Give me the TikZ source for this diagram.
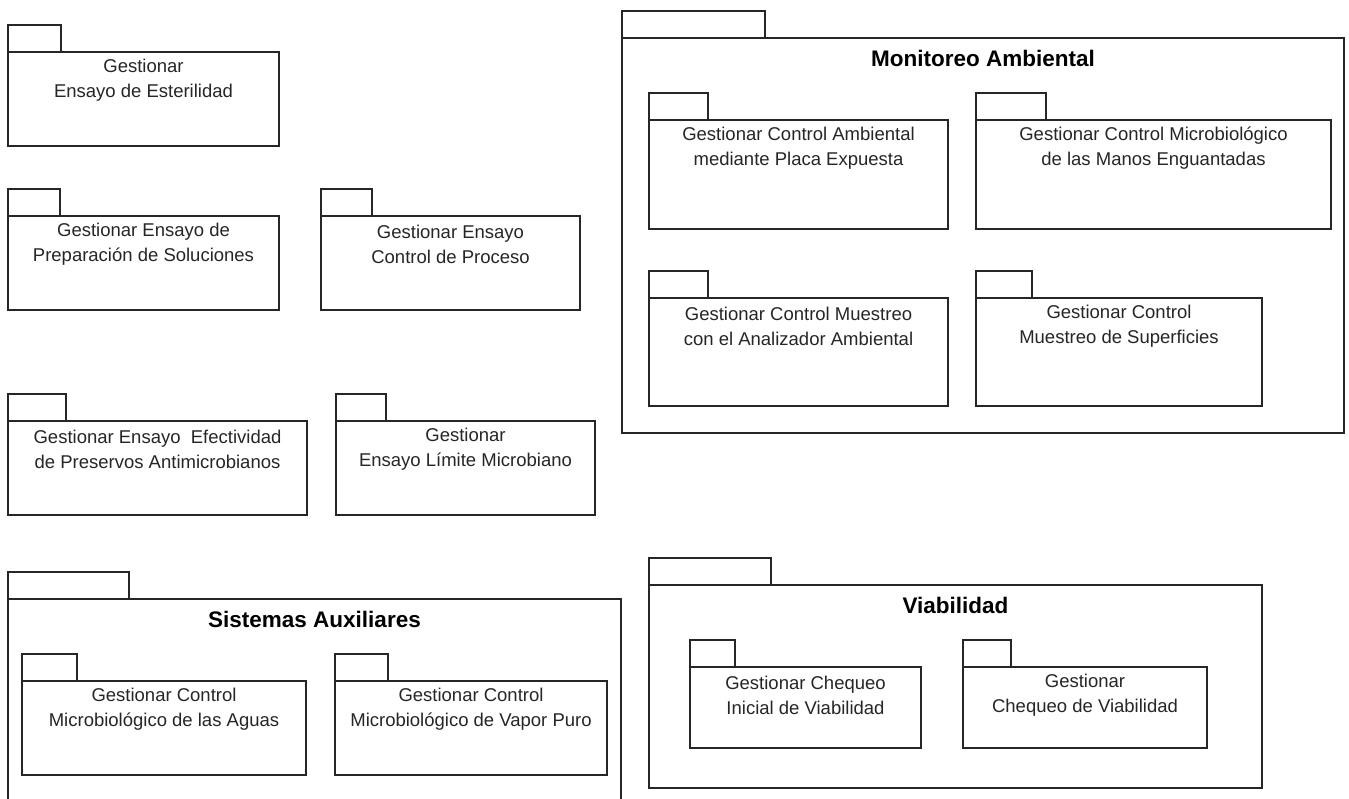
\documentclass[tikz,border=0pt]{standalone}
\usepackage{fontspec}
\setmainfont{Liberation Sans}
\begin{document}
\begin{tikzpicture}[x=1pt,y=-1pt,
  pkgline/.style={draw=black!85,line width=1.3pt,fill=white,inner sep=0pt,outer sep=0pt,anchor=north west},
  tabbox/.style={pkgline},
  bodybox/.style={pkgline},
  pkglabel/.style={align=center,inner sep=0pt,text=black!85,font=\fontsize{18.5}{25}\selectfont},
  pkgtitle/.style={inner sep=0pt,text=black,font=\fontsize{22.5}{27}\selectfont\bfseries}]
% UML package: name, left x, tab top, body top, tab right x, right x, bottom y, caption
\newcommand\umlpkg[8]{%
  \node[tabbox,minimum width={#5pt-#2pt},minimum height={#4pt-#3pt}] (#1-tab) at (#2,#3) {};
  \node[bodybox,minimum width={#6pt-#2pt},minimum height={#7pt-#4pt}] (#1) at (#2,#4) {};
  \node[pkglabel] (#1-text) at ([yshift=-28.5pt]#1.north) {#8};}
% Containing package with a bold title
\newcommand\umlgroup[8]{%
  \node[tabbox,minimum width={#5pt-#2pt},minimum height={#4pt-#3pt}] (#1-tab) at (#2,#3) {};
  \node[bodybox,minimum width={#6pt-#2pt},minimum height={#7pt-#4pt}] (#1) at (#2,#4) {};
  \node[pkgtitle] (#1-title) at ([yshift=-20.5pt]#1.north) {#8};}
\fill[white] (0,0) rectangle (1349,798);
\useasboundingbox (0,0) rectangle (1349,798);
\clip (0,0) rectangle (1349,798);

% stand-alone packages, left column
\umlpkg{esterilidad}{8}{25}{52}{61}{279}{146}{Gestionar\\Ensayo de Esterilidad}
\umlpkg{soluciones}{8}{189}{216}{60}{279}{310}{Gestionar Ensayo de\\Preparación de Soluciones}
\umlpkg{proceso}{321}{189}{216}{372}{580}{310}{Gestionar Ensayo\\Control de Proceso}
\umlpkg{efectividad}{8}{394}{421}{66}{307}{515}{Gestionar Ensayo\ \ Efectividad\\de Preservos Antimicrobianos}
\umlpkg{limite}{336}{394}{421}{386}{595}{515}{Gestionar\\Ensayo Límite Microbiano}

% Sistemas Auxiliares
\umlgroup{sistemas}{8}{572}{599}{129}{621}{812}{Sistemas Auxiliares}
\umlpkg{aguas}{22}{654}{681}{77}{306}{775}{Gestionar Control\\Microbiológico de las Aguas}
\umlpkg{vapor}{335}{654}{681}{388}{607}{775}{Gestionar Control\\Microbiológico de Vapor Puro}

% Monitoreo Ambiental
\umlgroup{monitoreo}{622}{11}{38}{765}{1344}{433}{Monitoreo Ambiental}
\umlpkg{placa}{649}{93}{120}{708}{948}{229}{Gestionar Control Ambiental\\mediante Placa Expuesta}
\umlpkg{manos}{976}{93}{120}{1046}{1331}{229}{Gestionar Control Microbiológico\\de las Manos Enguantadas}
\umlpkg{analizador}{649}{271}{298}{708}{948}{406}{Gestionar Control Muestreo\\con el Analizador Ambiental}
\umlpkg{superficies}{976}{271}{298}{1032}{1262}{406}{Gestionar Control\\Muestreo de Superficies}

% Viabilidad
\umlgroup{viabilidad}{649}{558}{585}{771}{1262}{788}{Viabilidad}
\umlpkg{inicial}{690}{640}{667}{735}{921}{748}{Gestionar Chequeo\\Inicial de Viabilidad}
\umlpkg{chequeo}{963}{640}{667}{1011}{1207}{748}{Gestionar\\Chequeo de Viabilidad}
\end{tikzpicture}
\end{document}
